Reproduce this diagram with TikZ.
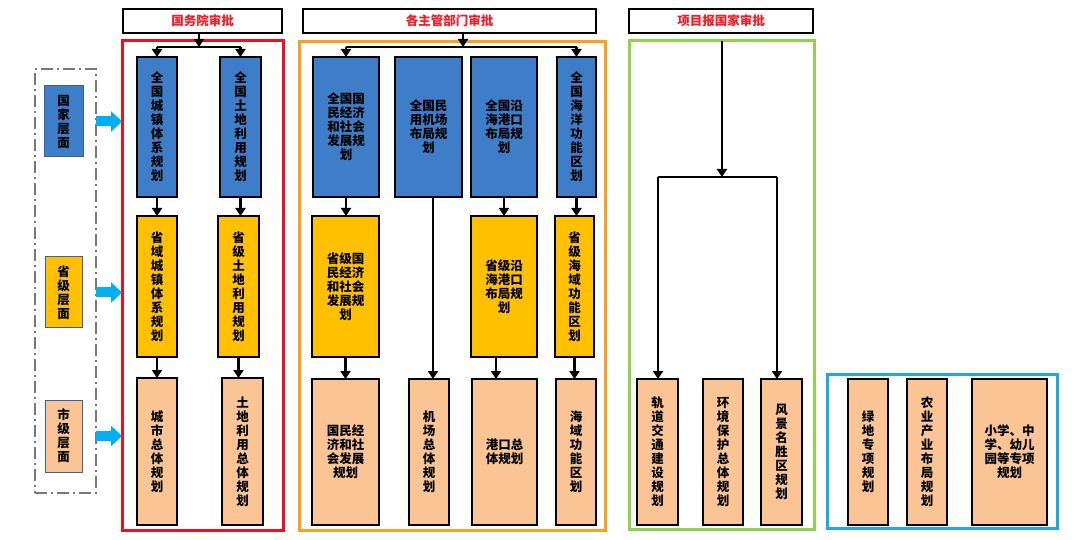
\documentclass[tikz,border=0pt]{standalone}
\usepackage{fontspec}
\setmainfont{Noto Sans CJK SC}
\usetikzlibrary{arrows.meta}
\definecolor{cred}{RGB}{230,20,30}
\definecolor{htext}{RGB}{240,30,40}
\definecolor{corange}{RGB}{250,160,30}
\definecolor{cgreen}{RGB}{146,208,80}
\definecolor{cframeblue}{RGB}{30,170,225}
\definecolor{ccyan}{RGB}{0,176,240}
\definecolor{cblue}{RGB}{62,126,200}
\definecolor{cgold}{RGB}{255,192,0}
\definecolor{cpeach}{RGB}{250,196,148}
\definecolor{cgray}{RGB}{120,120,120}
\definecolor{cdarkblue}{RGB}{60,95,160}
\tikzset{
  box/.style={draw=black, line width=1.4pt, inner sep=0pt, outer sep=0pt, align=center,
    font=\bfseries\fontsize{12.5}{14}\selectfont, text=black},
  bluebox/.style={box, fill=cblue},
  goldbox/.style={box, fill=cgold},
  peachbox/.style={box, fill=cpeach},
  header/.style={box, fill=white, text=htext},
  lvl/.style={box, draw=cdarkblue, line width=1pt},
  frame/.style={line width=3pt, inner sep=0pt, outer sep=0pt},
  arr/.style={line width=2.2pt, -{Triangle[length=8pt,width=10pt]}},
  ln/.style={line width=2.2pt},
  fat/.style={line width=10pt, draw=ccyan, -{Triangle[length=11pt,width=20pt]}},
}
\newcommand\bx[7]{\node[#6, anchor=north west, minimum width={(#4-#2)*1pt}, minimum height={(#5-#3)*1pt}] (#1) at (#2,#3) {#7};}
\begin{document}
\begin{tikzpicture}[x=1pt,y=-1pt]
\useasboundingbox[fill=white] (0,0) rectangle (1080,540);
% frames
\bx{lf}{35}{69}{96}{493}{draw=cgray, line width=2pt, dash pattern=on 12pt off 4pt on 2pt off 4pt, inner sep=0pt, outer sep=0pt}{}
\bx{rf}{122}{41}{283}{530}{frame, draw=cred}{}
\bx{of}{299}{42}{605}{530}{frame, draw=corange}{}
\bx{gf}{629}{41}{814}{529}{frame, draw=cgreen}{}
\bx{bf}{827}{374}{1057}{528}{frame, draw=cframeblue}{}
% headers
\bx{h1}{123}{9}{282}{33}{header}{国务院审批}
\bx{h2}{303}{9}{596}{33}{header}{各主管部门审批}
\bx{h3}{629}{9}{813}{33}{header}{项目报国家审批}
% level labels
\bx{L1}{44}{86}{83}{157}{lvl, fill=cblue}{国\\家\\层\\面}
\bx{L2}{45}{257}{82}{328}{lvl, fill=cgold}{省\\级\\层\\面}
\bx{L3}{45}{400}{82}{472}{lvl, fill=cpeach}{市\\级\\层\\面}
% red group
\bx{rb1}{137}{57}{177}{197}{bluebox}{全\\国\\城\\镇\\体\\系\\规\\划}
\bx{rb2}{220}{57}{261}{197}{bluebox}{全\\国\\土\\地\\利\\用\\规\\划}
\bx{ry1}{137}{216}{177}{357}{goldbox}{省\\域\\城\\镇\\体\\系\\规\\划}
\bx{ry2}{218}{216}{259}{357}{goldbox}{省\\级\\土\\地\\利\\用\\规\\划}
\bx{rp1}{137}{378}{177}{525}{peachbox}{城\\市\\总\\体\\规\\划}
\bx{rp2}{222}{378}{263}{525}{peachbox}{土\\地\\利\\用\\总\\体\\规\\划}
% orange group
\bx{ob1}{313}{57}{379}{197}{bluebox}{全国国\\民经济\\和社会\\发展规\\划}
\bx{ob2}{395}{57}{462}{197}{bluebox}{全国民\\用机场\\布局规\\划}
\bx{ob3}{471}{57}{537}{197}{bluebox}{全国沿\\海港口\\布局规\\划}
\bx{ob4}{557}{57}{596}{197}{bluebox}{全\\国\\海\\洋\\功\\能\\区\\划}
\bx{oy1}{312}{216}{379}{357}{goldbox}{省级国\\民经济\\和社会\\发展规\\划}
\bx{oy3}{471}{216}{537}{357}{goldbox}{省级沿\\海港口\\布局规\\划}
\bx{oy4}{555}{216}{594}{357}{goldbox}{省\\级\\海\\域\\功\\能\\区\\划}
\bx{op1}{312}{379}{379}{525}{peachbox}{国民经\\济和社\\会发展\\规划}
\bx{op2}{409}{379}{449}{525}{peachbox}{机\\场\\总\\体\\规\\划}
\bx{op3}{472}{379}{537}{525}{peachbox}{港口总\\体规划}
\bx{op4}{556}{379}{596}{525}{peachbox}{海\\域\\功\\能\\区\\划}
% green group
\bx{gp1}{637}{379}{678}{525}{peachbox}{轨\\道\\交\\通\\建\\设\\规\\划}
\bx{gp2}{703}{379}{743}{525}{peachbox}{环\\境\\保\\护\\总\\体\\规\\划}
\bx{gp3}{761}{379}{802}{525}{peachbox}{风\\景\\名\\胜\\区\\规\\划}
% blue group
\bx{qp1}{848}{379}{888}{525}{peachbox}{绿\\地\\专\\项\\规\\划}
\bx{qp2}{907}{379}{947}{525}{peachbox}{农\\业\\产\\业\\布\\局\\规\\划}
\bx{qp3}{972}{379}{1047}{525}{peachbox}{小学、中\\学、幼儿\\园等专项\\规划}
% cyan level arrows
\draw[fat] (lf.east |- L1) -- (rf.west |- L1);
\draw[fat] (lf.east |- L2) -- (rf.west |- L2);
\draw[fat] (lf.east |- L3) -- (rf.west |- L3);
% red group connectors
\coordinate (jr) at (199,47);
\draw[arr] (h1.south -| jr) -- (jr);
\draw[ln] (rb1.north |- jr) -- (rb2.north |- jr);
\draw[arr] (rb1.north |- jr) -- (rb1.north);
\draw[arr] (rb2.north |- jr) -- (rb2.north);
\draw[arr] (rb1.south) -- (rb1.south |- ry1.north);
\draw[arr] (rb2.south) -- (rb2.south |- ry2.north);
\draw[arr] (ry1.south) -- (ry1.south |- rp1.north);
\draw[arr] (ry2.south) -- (ry2.south |- rp2.north);
% orange group connectors
\coordinate (jo) at (463,47);
\draw[arr] (h2.south -| jo) -- (jo);
\draw[ln] (ob1.north |- jo) -- (ob4.north |- jo);
\draw[arr] (ob1.north |- jo) -- (ob1.north);
\draw[arr] (ob4.north |- jo) -- (ob4.north);
\draw[arr] (ob1.south) -- (ob1.south |- oy1.north);
\coordinate (o2x) at (433,0);
\draw[arr] (ob2.south -| o2x) -- (op2.north -| o2x);
\draw[arr] (ob3.south) -- (ob3.south |- oy3.north);
\draw[arr] (ob4.south) -- (ob4.south |- oy4.north);
\draw[arr] (oy1.south) -- (oy1.south |- op1.north);
\coordinate (o3x) at (496,0);
\draw[arr] (oy3.south -| o3x) -- (op3.north -| o3x);
\draw[arr] (oy4.south) -- (oy4.south |- op4.north);
% green group connectors
\coordinate (jg) at (722,177);
\coordinate (jgl) at (658,177);
\coordinate (jgr) at (777,177);
\draw[arr] (gf.north -| jg) -- (jg);
\draw[ln] (jgl) -- (jgr);
\draw[arr] (jgl) -- (jgl |- gp1.north);
\draw[arr] (jgr) -- (jgr |- gp3.north);
\end{tikzpicture}
\end{document}
